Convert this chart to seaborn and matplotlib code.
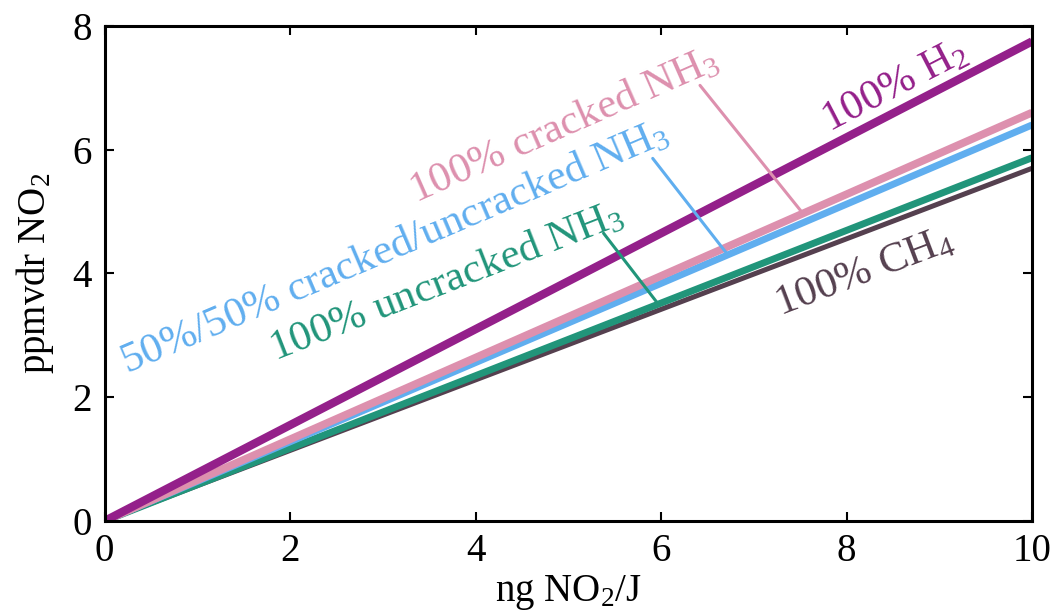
import numpy as np
import pandas as pd
import matplotlib
matplotlib.use("Agg")
import matplotlib.pyplot as plt
import seaborn as sns

# NO2 conversion lines: ppmvdr = slope * ng/J, read at x = 10
fuels = ["100% H$_2$", "100% cracked NH$_3$", "50%/50% cracked/uncracked NH$_3$",
         "100% uncracked NH$_3$", "100% CH$_4$"]
end_values = [7.75, 6.6, 6.4, 5.87, 5.7]
x_range = [0, 10]
colors = ["#94208a", "#dd90ae", "#60aeef", "#21957a", "#55404f"]
widths = [6.0, 5.6, 5.0, 5.0, 3.6]

# label centres (data coords) and leader lines
label_pos = [(8.52, 7.01), (4.96, 6.38), (3.13, 4.41), (3.69, 3.86), (8.19, 4.01)]
leaders = [None, ((6.42, 7.04), 7.53), ((5.91, 5.86), 6.72), ((5.38, 4.65), 5.97), None]

sns.set_style("ticks")
plt.rcParams["font.family"] = ["Liberation Serif", "DejaVu Serif"]
plt.rcParams["mathtext.fontset"] = "custom"
plt.rcParams["mathtext.rm"] = "Liberation Serif"
plt.rcParams["mathtext.it"] = "Liberation Serif:italic"
plt.rcParams["text.color"] = "black"
plt.rcParams["axes.labelcolor"] = "black"
plt.rcParams["xtick.color"] = "black"
plt.rcParams["ytick.color"] = "black"

rows = []
for name, v in zip(fuels, end_values):
    for x in x_range:
        rows.append({"fuel": name, "x": x, "y": v * x / x_range[1]})
df = pd.DataFrame(rows)

fig = plt.figure(figsize=(10.55, 6.14), dpi=100)
ax = fig.add_axes([0.0992, 0.1515, 0.879, 0.8062])

# draw lowest first so the upper lines sit on top
for i in reversed(range(len(fuels))):
    sub = df[df["fuel"] == fuels[i]]
    sns.lineplot(data=sub, x="x", y="y", color=colors[i], linewidth=widths[i],
                 ax=ax, legend=False, solid_capstyle="butt")

for i, name in enumerate(fuels):
    slope = end_values[i] / x_range[1]
    ang = np.degrees(np.arctan(slope))
    ax.text(label_pos[i][0], label_pos[i][1], name, color=colors[i], fontsize=31,
            ha="center", va="center", rotation=ang, rotation_mode="anchor",
            transform_rotates_text=True)
    if leaders[i] is not None:
        (x0, y0), x1 = leaders[i]
        ax.plot([x0, x1], [y0, slope * x1], color=colors[i], linewidth=2.2)

ax.set_xlim(0, 10)
ax.set_ylim(0, 8)
ax.set_xticks([0, 2, 4, 6, 8, 10])
ax.set_yticks([0, 2, 4, 6, 8])
ax.tick_params(direction="in", length=6.5, width=1.5, labelsize=28, pad=9,
               top=True, right=True)
for s in ax.spines.values():
    s.set_linewidth(2.2)
    s.set_color("black")
ax.set_xlabel("ng NO$_2$/J", fontsize=28, labelpad=2)
ax.set_ylabel("ppmvdr NO$_2$", fontsize=28, labelpad=12)

fig.savefig("out.png", dpi=100)
